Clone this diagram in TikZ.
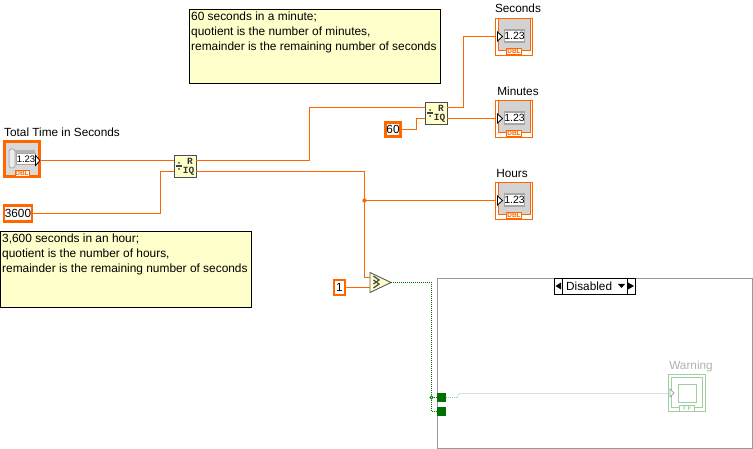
\documentclass[tikz,border=0pt]{standalone}
\usepackage{fontspec}
\setmainfont{Liberation Sans}
\setmonofont{Liberation Mono}
\definecolor{numero}{HTML}{FF6600}
\definecolor{kelta}{HTML}{FFFFCC}
\definecolor{vihrea}{HTML}{007000}
\definecolor{haalea}{HTML}{A0D0A0}
\tikzset{
  johto/.style={draw=numero,line width=1.1pt},
  totuus/.style={draw=vihrea,line width=1pt,dash pattern=on 1pt off 1pt},
  huomio/.style={draw,fill=kelta,line width=.9pt,inner sep=0pt,anchor=north west},
  huomioteksti/.style={inner sep=0pt,font=\fontsize{11.9}{15}\selectfont,align=left,anchor=north west},
  vakio/.style={draw=numero,line width=2.6pt,fill=white,inner sep=0pt,font=\fontsize{11.8}{12}\selectfont},
  otsikko/.style={font=\fontsize{11.8}{12}\selectfont,inner sep=0pt},
  tyyppi/.style={draw=numero,fill=white,line width=.8pt,inner sep=0pt,text=numero,font=\fontsize{6.5}{7}\bfseries\selectfont}
}
\begin{document}
\begin{tikzpicture}[x=1pt,y=-1pt]
\useasboundingbox (0,0) rectangle (753,449);
\newcommand\naytto[3]{
\begin{scope}[shift={(#2,#3)}]
\node[draw=numero,line width=.9pt,minimum width=37pt,minimum height=37pt,inner sep=0pt,fill=white] (#1) at (0,0) {};
\node[draw=numero,line width=.9pt,fill=gray!35,minimum width=32pt,minimum height=32pt,inner sep=0pt] (#1t) at (0,-2.2) {};
\node[draw=gray!70,line width=1.4pt,fill=white,minimum width=20pt,minimum height=12pt,inner sep=0pt,font=\fontsize{10.5}{11}\selectfont] (#1n) at (0.5,-.3) {1.23};
\node[tyyppi,minimum width=15pt,minimum height=6pt] (#1d) at (0,15) {DBL};
\draw[fill=white,line width=.8pt] (-16.5,-4.5) -- (-11.5,0) -- (-16.5,4.5) -- cycle;
\end{scope}
}
\newcommand\jako[3]{
\begin{scope}[shift={(#2,#3)}]
\node[draw=black!70,fill=kelta,line width=.9pt,minimum width=22pt,minimum height=22pt,inner sep=0pt] (#1) at (0,0) {};
\coordinate (#1a) at (-11,-5.5);
\coordinate (#1b) at (-11,5.5);
\coordinate (#1r) at (11,-5.5);
\coordinate (#1q) at (11,5.5);
\fill[black!75] (-9,-.6) rectangle (-3,.6);
\fill[black!75] (-6,-3) circle (1pt) (-6,3) circle (1pt);
\node[inner sep=0pt,font=\ttfamily\fontsize{9.5}{10}\bfseries\selectfont,text=black!80] (#1x) at (5,-5) {R};
\node[inner sep=0pt,font=\ttfamily\fontsize{9.5}{10}\bfseries\selectfont,text=black!80] (#1y) at (3.5,5.5) {IQ};
\end{scope}
}
% huomiot
\node[huomio,minimum width=251pt,minimum height=74pt] (huomio1) at (189,9) {};
\node[huomioteksti] (huomio1t) at (191,12) {60 seconds in a minute;\\quotient is the number of minutes,\\remainder is the remaining number of seconds};
\node[huomio,minimum width=251pt,minimum height=76pt] (huomio2) at (0,231) {};
\node[huomioteksti] (huomio2t) at (2,234) {3,600 seconds in an hour;\\quotient is the number of hours,\\remainder is the remaining number of seconds};
% ohjain
\node[otsikko,anchor=west] (aikateksti) at (4,132) {Total Time in Seconds};
\node[draw=numero,line width=2.6pt,fill=gray!30,minimum width=35pt,minimum height=35pt,inner sep=0pt] (aika) at (22,159) {};
\coordinate (aikaulos) at (40,160.5);
\node[draw=gray!60,fill=gray!15,line width=1pt,minimum width=6pt,minimum height=19pt,inner sep=0pt,rounded corners=2.5pt] (pyora) at (12,158.5) {};
\fill[gray!60] (15,150) rectangle (35,153);
\node[draw=gray!70,line width=1pt,fill=white,minimum width=18pt,minimum height=11pt,inner sep=0pt,font=\fontsize{9.5}{10}\selectfont] (aikan) at (26,159) {1.23};
\node[tyyppi,minimum width=14pt,minimum height=6.5pt] (aikad) at (22,173.5) {DBL};
\draw[fill=white,line width=.8pt] (35.5,155.5) -- (40,160.5) -- (35.5,165.5) -- cycle;
% naytot
\node[otsikko] (sekteksti) at (518,8) {Seconds};
\naytto{sek}{514}{36.5}
\node[otsikko] (minteksti) at (518,91) {Minutes};
\naytto{mins}{514}{118.5}
\node[otsikko] (tunteksti) at (512,173) {Hours};
\naytto{tunnit}{514}{200.5}
% vakiot
\node[vakio,minimum width=28pt,minimum height=16pt] (v3600) at (18,213.5) {3600};
\node[vakio,minimum width=15pt,minimum height=14pt] (v60) at (393,129.5) {60};
\node[vakio,minimum width=11pt,minimum height=15pt] (v1) at (339.5,287.5) {1};
\jako{jako1}{185}{166}
\jako{jako2}{436}{113}
% vertailu
\coordinate (verta) at (370,277.5);
\coordinate (vertb) at (370,287.5);
\coordinate (verto) at (391,282.5);
\draw[draw=black!65,fill=kelta,line join=round,line width=.9pt] (370,272.5) -- (verto) -- (370,292.5) -- cycle;
\draw[black!70,line width=1.3pt] (373.5,276) -- (379,280) -- (373.5,284) (373.5,280) -- (379,284) -- (373.5,288);
% johdot
\coordinate (m3600) at (160.5,213.5);
\coordinate (m1) at (309.5,160.5);
\coordinate (m60) at (416.5,129.5);
\coordinate (m2) at (463.5,107.5);
\coordinate (m3) at (364.5,171.5);
\coordinate (haara) at (364.5,200.5);
\path[johto] (aikaulos) -- (jako1a);
\path[johto] (v3600.east) -- (m3600) |- (jako1b);
\path[johto] (jako1r) -- (m1) |- (jako2a);
\path[johto] (v60.east) -- (m60) |- (jako2b);
\path[johto] (jako2r) -- (m2) |- (sek.west);
\path[johto] (jako2q) -- (mins.west);
\path[johto] (jako1q) -- (m3) |- (verta);
\path[johto] (haara) -- (tunnit.west);
\fill[numero] (haara) circle (2.2pt);
\path[johto] (v1.east) -- (vertb);
% rakenne
\node[draw=gray!80,line width=.9pt,fill=white,minimum width=315pt,minimum height=170pt,inner sep=0pt,anchor=north west] (rakenne) at (437,278) {};
\node[draw,line width=.9pt,fill=white,minimum width=8pt,minimum height=16pt,inner sep=0pt] (valvas) at (558,286) {};
\node[draw,line width=.9pt,fill=white,minimum width=65pt,minimum height=16pt,inner sep=0pt] (valinta) at (594.5,286) {};
\node[draw,line width=.9pt,fill=white,minimum width=8pt,minimum height=16pt,inner sep=0pt] (valoik) at (631,286) {};
\node[otsikko,anchor=west] (valteksti) at (566,286.5) {Disabled};
\fill (555.5,286) -- (561,282.5) -- (561,289.5) -- cycle;
\fill (628,282.5) -- (634,286) -- (628,289.5) -- cycle;
\fill (618,284) -- (625,284) -- (621.5,288) -- cycle;
\node[fill=vihrea,minimum width=9pt,minimum height=9pt,inner sep=0pt] (tunneli1) at (441.5,397.5) {};
\node[fill=vihrea,minimum width=9pt,minimum height=9pt,inner sep=0pt] (tunneli2) at (441.5,411.5) {};
% varoitus
\node[otsikko,text=gray!60] (varoteksti) at (691,366) {Warning};
\node[draw=haalea,line width=.9pt,fill=white,minimum width=37pt,minimum height=37pt,inner sep=0pt] (varo) at (687,393) {};
\node[draw=haalea,line width=.9pt,minimum width=31pt,minimum height=30pt,inner sep=0pt] (varot) at (687,392.5) {};
\node[draw=haalea,line width=.9pt,minimum width=18pt,minimum height=18pt,inner sep=0pt] (varon) at (687,393) {};
\node[draw=haalea,fill=white,line width=.8pt,inner sep=0pt,minimum width=15pt,minimum height=6pt,text=haalea,font=\fontsize{6.5}{7}\bfseries\selectfont] (varod) at (687,408.5) {T\,F};
\draw[gray!70,fill=white,line width=.8pt] (670,389) -- (674,393) -- (670,397) -- cycle;
% totuusjohdot
\coordinate (haara2) at (431.5,397.5);
\path[totuus] (verto) -| (haara2) -- (tunneli1.west);
\path[totuus] (haara2) |- (tunneli2.west);
\draw[vihrea,fill=white,line width=.9pt] (haara2) circle (1.6pt);
\coordinate (m4) at (458.5,393.5);
\path[draw=haalea,line width=.8pt,dash pattern=on 1pt off 1pt] (tunneli1.east) -- ++(11,0) -- (m4) -- (varo.west |- m4);
\end{tikzpicture}
\end{document}
